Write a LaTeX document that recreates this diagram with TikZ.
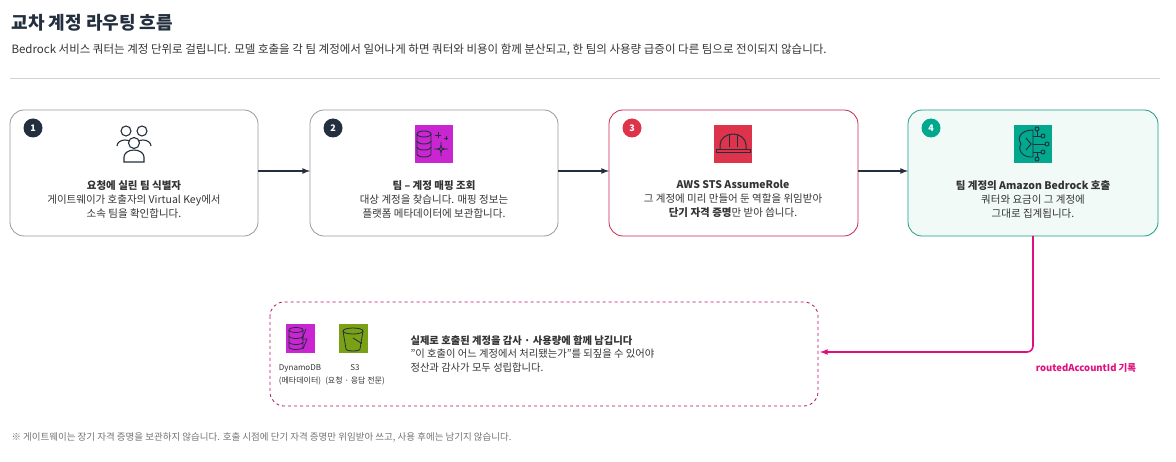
\documentclass[tikz,border=0pt]{standalone}
\usepackage{fontspec}
\setmainfont{Noto Sans CJK KR}
\begin{document}
\definecolor{navy}{HTML}{232F3E}
\definecolor{crim}{HTML}{C7244F}
\definecolor{crimf}{HTML}{DD344C}
\definecolor{teal}{HTML}{1A9C84}
\definecolor{tealf}{HTML}{01A88D}
\definecolor{mint}{HTML}{F2FAF8}
\definecolor{purp}{HTML}{C925D1}
\definecolor{grn}{HTML}{7AA116}
\definecolor{pink}{HTML}{E0117F}
\definecolor{txt}{HTML}{333333}
\begin{tikzpicture}[x=1pt,y=-1pt,
 box/.style={draw=gray!80,rounded corners=14pt,line width=0.8pt},
 badge/.style={circle,fill=navy,text=white,inner sep=0pt,minimum size=19pt,font=\fontsize{9}{9}\selectfont\bfseries},
 body/.style={align=center,text=txt,font=\fontsize{10.5}{14}\selectfont},
 arr/.style={-latex,line width=1.6pt,draw=navy},
 ic/.style={minimum size=38pt,inner sep=0pt}]
\useasboundingbox (0,0) rectangle (1176,462);
\node[anchor=west,font=\fontsize{18}{20}\selectfont\bfseries,text=navy] (title) at (8,23) {교차 계정 라우팅 흐름};
\node[anchor=west,font=\fontsize{11.5}{12}\selectfont,text=txt] (sub) at (8,50) {Bedrock 서비스 쿼터는 계정 단위로 걸립니다. 모델 호출을 각 팀 계정에서 일어나게 하면 쿼터와 비용이 함께 분산되고, 한 팀의 사용량 급증이 다른 팀으로 전이되지 않습니다.};
\draw[gray!35,line width=0.8pt] (10,78) -- (1160,78);
% boxes
\draw[box] (10,110) rectangle (258,236);
\draw[box] (310,110) rectangle (558,236);
\draw[box,draw=crim] (609,110) rectangle (858,236);
\draw[box,draw=teal,fill=mint] (908,110) rectangle (1158,236);
\coordinate (b1e) at (258,171); \coordinate (b2w) at (310,171);
\coordinate (b2e) at (558,171); \coordinate (b3w) at (609,171);
\coordinate (b3e) at (858,171); \coordinate (b4w) at (908,171);
\draw[arr] (b1e) -- (b2w); \draw[arr] (b2e) -- (b3w); \draw[arr] (b3e) -- (b4w);
\node[badge] (n1) at (33,128) {1};
\node[badge] (n2) at (333,128) {2};
\node[badge,fill=crimf] (n3) at (632,128) {3};
\node[badge,fill=tealf] (n4) at (931,128) {4};
% icon 1 people
\begin{scope}[shift={(134,144)},line width=1.1pt,draw=navy]
\draw (-8,-13) circle (5); \draw (8,-13) circle (5);
\draw (-17,2) arc (180:360:8 and 6) ; \draw (1,2) arc (180:360:8 and 6);
\draw[fill=white] (-10,18) -- (-10,13) arc (180:360:10 and 7) -- (10,18) -- cycle;
\draw[fill=white] (0,-1) circle (5.5);
\end{scope}
\node[body] (t1) at (134,199) {\textbf{요청에 실린 팀 식별자}\\게이트웨이가 호출자의 Virtual Key에서\\소속 팀을 확인합니다.};
% icon 2
\node[ic,fill=purp] (i2) at (434,144) {};
\begin{scope}[shift={(434,144)},draw=navy,line width=0.9pt]
\draw (-10,-10) ellipse (7 and 3); \draw (-17,-10) -- (-17,10) arc (180:0:7 and 3) -- (-3,-10);
\draw (-17,-3) arc (180:0:7 and 3); \draw (-17,3) arc (180:0:7 and 3);
\draw (7,-2) .. controls (7,5) .. (14,5) .. controls (7,5) .. (7,12) .. controls (7,5) .. (0,5) .. controls (7,5) .. (7,-2);
\draw (4,-12) -- (4,-6) (1,-9) -- (7,-9) (12,-8) -- (12,-4) (10,-6) -- (14,-6);
\end{scope}
\node[body] (t2) at (434,199) {\textbf{팀 – 계정 매핑 조회}\\대상 계정을 찾습니다. 매핑 정보는\\플랫폼 메타데이터에 보관합니다.};
% icon 3
\node[ic,fill=crimf] (i3) at (733,144) {};
\begin{scope}[shift={(733,144)},draw=navy,line width=1pt]
\draw (-13,6) -- (-13,1) arc (180:360:13 and 11) -- (13,6);
\draw (-17,6) -- (17,6) -- (17,9) -- (-17,9) -- cycle;
\draw (-4,-9) -- (-4,3) (4,-9) -- (4,3);
\end{scope}
\node[body] (t3) at (733,199) {\textbf{AWS STS AssumeRole}\\그 계정에 미리 만들어 둔 역할을 위임받아\\\textbf{단기 자격 증명}만 받아 씁니다.};
% icon 4
\node[ic,fill=tealf] (i4) at (1033,144) {};
\begin{scope}[shift={(1033,144)},draw=navy,line width=0.9pt]
\draw (0,-14) .. controls (-14,-14) and (-16,-4) .. (-12,0) .. controls (-16,6) and (-10,14) .. (0,13) -- cycle;
\draw (-7,-6) -- (-2,0) -- (-7,6) (-2,0) -- (0,0);
\draw (0,-8) -- (8,-8) (0,0) -- (12,0) (0,8) -- (8,8) (4,-8) -- (4,-13) (4,8) -- (4,13);
\draw (10,-8) circle (2) (14,0) circle (2) (10,8) circle (2) (4,-15) circle (2) (4,15) circle (2);
\end{scope}
\node[body] (t4) at (1033,199) {\textbf{팀 계정의 Amazon Bedrock 호출}\\쿼터와 요금이 그 계정에\\그대로 집계됩니다.};
% bottom
\draw[pink!80!black,dashed,rounded corners=14pt,line width=0.8pt] (270,302) rectangle (818,406);
\coordinate (bd) at (820,352);
\coordinate (b4s) at (1033,236);
\draw[-latex,pink,line width=1.6pt,rounded corners=6pt] (b4s) |- (bd);
\node[anchor=north,font=\fontsize{9.5}{11}\selectfont\bfseries,text=pink] (rl) at (1086,360) {routedAccountId 기록};
\node[minimum size=29pt,inner sep=0pt,fill=purp] (dd) at (300,339) {};
\begin{scope}[shift={(300,339)},draw=navy,line width=0.8pt]
\draw (-4,-9) ellipse (7 and 2.5); \draw (-11,-9) -- (-11,8) arc (180:0:7 and 2.5) -- (3,-9);
\draw (-11,-3) arc (180:0:7 and 2.5); \draw (-11,3) arc (180:0:7 and 2.5);
\draw (6,-10) -- (2,0) -- (7,0) -- (3,10);
\end{scope}
\node[minimum size=29pt,inner sep=0pt,fill=grn] (s3) at (353,339) {};
\begin{scope}[shift={(353,339)},draw=navy,line width=0.8pt]
\draw (0,-8) ellipse (10 and 3); \draw (-10,-8) -- (-7,10) arc (180:0:7 and 2) -- (10,-8);
\draw (0,-1) -- (8,4); \fill[navy] (8,4) circle (1.2);
\end{scope}
\node[align=center,font=\fontsize{8}{13}\selectfont,text=txt] (ddl) at (300,375) {DynamoDB\\(메타데이터)};
\node[align=center,font=\fontsize{8}{13}\selectfont,text=txt] (s3l) at (355,375) {S3\\(요청 · 응답 전문)};
\node[anchor=west,align=left,font=\fontsize{10.3}{13.5}\selectfont,text=txt] (bt) at (407,354) {\textbf{실제로 호출된 계정을 감사 · 사용량에 함께 남깁니다}\\"이 호출이 어느 계정에서 처리됐는가"를 되짚을 수 있어야\\정산과 감사가 모두 성립합니다.};
\node[anchor=west,font=\fontsize{9.5}{10}\selectfont,text=gray!90!black] (fn) at (8,437) {※ 게이트웨이는 장기 자격 증명을 보관하지 않습니다. 호출 시점에 단기 자격 증명만 위임받아 쓰고, 사용 후에는 남기지 않습니다.};
\end{tikzpicture}
\end{document}
